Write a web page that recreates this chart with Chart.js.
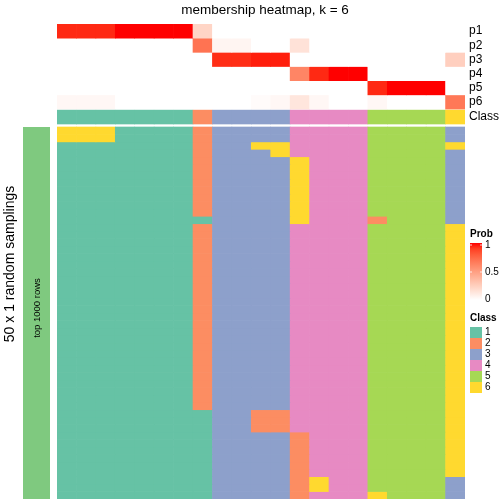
<!DOCTYPE html>
<html>
<head>
<meta charset="utf-8">
<script src="https://cdn.jsdelivr.net/npm/chart.js@4/dist/chart.umd.min.js"></script>
<style>
  html, body { margin: 0; padding: 0; background: #ffffff; }
  #wrap { width: 504px; height: 504px; position: relative; }
</style>
</head>
<body>
<div id="wrap"><canvas id="chart" width="504" height="504"></canvas></div>
<script>
// ---- data ----
var columnIds = ["s1","s2","s3","s4","s5","s6","s7","s8","s9","s10","s11",
                 "s12","s13","s14","s15","s16","s17","s18","s19","s20","s21"];

var probP1 = [0.95, 0.95, 0.95, 1, 1, 1, 1, 0.22, 0, 0, 0, 0, 0, 0, 0, 0, 0, 0, 0, 0, 0];
var probP2 = [0, 0, 0, 0, 0, 0, 0, 0.7, 0.05, 0.05, 0, 0, 0.15, 0, 0, 0, 0, 0, 0, 0, 0];
var probP3 = [0, 0, 0, 0, 0, 0, 0, 0, 0.94, 0.94, 0.97, 0.97, 0, 0, 0, 0, 0, 0, 0, 0, 0.25];
var probP4 = [0, 0, 0, 0, 0, 0, 0, 0, 0, 0, 0, 0, 0.62, 0.95, 1, 1, 0, 0, 0, 0, 0];
var probP5 = [0, 0, 0, 0, 0, 0, 0, 0, 0, 0, 0, 0, 0, 0, 0, 0, 0.95, 1, 1, 1, 0];
var probP6 = [0.04, 0.04, 0.04, 0, 0, 0, 0, 0, 0, 0, 0.02, 0.04, 0.13, 0.04, 0, 0, 0.04, 0, 0, 0, 0.68];
var probNames = ["p1", "p2", "p3", "p4", "p5", "p6"];

var consensusClass = [1, 1, 1, 1, 1, 1, 1, 2, 3, 3, 3, 3, 4, 4, 4, 4, 5, 5, 5, 5, 6];

// class of every sample in each of the 50 random samplings (one string per row)
var samplingRows = [
  "666111123333444455553",
  "666111123333444455553",
  "111111123366444455556",
  "111111123336444455553",
  "111111123333644455553",
  "111111123333644455553",
  "111111123333644455553",
  "111111123333644455553",
  "111111123333644455553",
  "111111123333644455553",
  "111111123333644455553",
  "111111123333644455553",
  "111111113333644425553",
  "111111123333444455556",
  "111111123333444455556",
  "111111123333444455556",
  "111111123333444455556",
  "111111123333444455556",
  "111111123333444455556",
  "111111123333444455556",
  "111111123333444455556",
  "111111123333444455556",
  "111111123333444455556",
  "111111123333444455556",
  "111111123333444455556",
  "111111123333444455556",
  "111111123333444455556",
  "111111123333444455556",
  "111111123333444455556",
  "111111123333444455556",
  "111111123333444455556",
  "111111123333444455556",
  "111111123333444455556",
  "111111123333444455556",
  "111111123333444455556",
  "111111123333444455556",
  "111111123333444455556",
  "111111123333444455556",
  "111111113322444455556",
  "111111113322444455556",
  "111111113322444455556",
  "111111113333244455556",
  "111111113333244455556",
  "111111113333244455556",
  "111111113333244455556",
  "111111113333244455556",
  "111111113333244455556",
  "111111113333264455553",
  "111111113333264455553",
  "111111113333244465553"
];

var classLabels = ["1", "2", "3", "4", "5", "6"];
var probTicks = [1, 0.5, 0];

// ---- styles ----
var classColors = { 1: "#66C2A5", 2: "#FC8D62", 3: "#8DA0CB", 4: "#E78AC3", 5: "#A6D854", 6: "#FFD92F" };
var sideColor = "#7FC97F";
var fontFamily = "'Liberation Sans', Arial, Helvetica, sans-serif";

// y layout in units (one unit is about one pixel)
var probRowH = 14.17;
var classTop = 86, classBottom = 100;
var mainTop = 103, mainBottom = 475;
var mainRowH = (mainBottom - mainTop) / samplingRows.length;

// white -> red in Lab space, like colorRamp2
function toLinear(c) { c = c / 255; return c <= 0.04045 ? c / 12.92 : Math.pow((c + 0.055) / 1.055, 2.4); }
function fromLinear(c) { var v = c <= 0.0031308 ? 12.92 * c : 1.055 * Math.pow(c, 1 / 2.4) - 0.055; return Math.round(Math.max(0, Math.min(1, v)) * 255); }
function rgbToLab(r, g, b) {
    r = toLinear(r); g = toLinear(g); b = toLinear(b);
    var x = (r * 0.4124 + g * 0.3576 + b * 0.1805) / 0.95047;
    var y = (r * 0.2126 + g * 0.7152 + b * 0.0722);
    var z = (r * 0.0193 + g * 0.1192 + b * 0.9505) / 1.08883;
    var f = function (t) { return t > 0.008856 ? Math.cbrt(t) : 7.787 * t + 16 / 116; };
    x = f(x); y = f(y); z = f(z);
    return [116 * y - 16, 500 * (x - y), 200 * (y - z)];
}
function labToRgb(L, a, bb) {
    var y = (L + 16) / 116, x = a / 500 + y, z = y - bb / 200;
    var fi = function (t) { return t * t * t > 0.008856 ? t * t * t : (t - 16 / 116) / 7.787; };
    x = fi(x) * 0.95047; y = fi(y); z = fi(z) * 1.08883;
    var r = x * 3.2406 + y * -1.5372 + z * -0.4986;
    var g = x * -0.9689 + y * 1.8758 + z * 0.0415;
    var b = x * 0.0557 + y * -0.2040 + z * 1.0570;
    return "rgb(" + fromLinear(r) + "," + fromLinear(g) + "," + fromLinear(b) + ")";
}
var labWhite = rgbToLab(255, 255, 255);
var labRed = rgbToLab(255, 0, 0);
function probColor(v) {
    return labToRgb(labWhite[0] + (labRed[0] - labWhite[0]) * v,
                    labWhite[1] + (labRed[1] - labWhite[1]) * v,
                    labWhite[2] + (labRed[2] - labWhite[2]) * v);
}

// ---- build datasets: one floating-bar dataset per heatmap row ----
var datasets = [];
var probRows = [probP1, probP2, probP3, probP4, probP5, probP6];
probRows.forEach(function (row, i) {
    var top = i * probRowH, bottom = (i + 1) * probRowH;
    datasets.push({
        data: row.map(function () { return [top, bottom]; }),
        backgroundColor: row.map(probColor)
    });
});
datasets.push({
    data: consensusClass.map(function () { return [classTop, classBottom]; }),
    backgroundColor: consensusClass.map(function (c) { return classColors[c]; })
});
samplingRows.forEach(function (row, i) {
    var top = mainTop + i * mainRowH, bottom = mainTop + (i + 1) * mainRowH;
    var cls = row.split("").map(Number);
    datasets.push({
        data: cls.map(function () { return [top, bottom]; }),
        backgroundColor: cls.map(function (c) { return classColors[c]; })
    });
});
datasets.forEach(function (d) {
    d.borderWidth = 0;
    d.barPercentage = 1;
    d.categoryPercentage = 1;
    d.grouped = false;
});

// ---- texts, side bar and legends ----
var decorations = {
    id: "decorations",
    afterDraw: function (chart) {
        var ctx = chart.ctx;
        var area = chart.chartArea;
        var yScale = chart.scales.y;
        ctx.save();
        ctx.fillStyle = "#000000";

        // Title
        ctx.font = "13.5px " + fontFamily;
        ctx.textAlign = "center";
        ctx.textBaseline = "middle";
        ctx.fillText("membership heatmap, k = 6", 265, 10);

        // Row labels on the right
        ctx.font = "12px " + fontFamily;
        ctx.textAlign = "left";
        probNames.forEach(function (n, i) {
            ctx.fillText(n, area.right + 4, yScale.getPixelForValue((i + 0.5) * probRowH));
        });
        ctx.fillText("Class", area.right + 4, yScale.getPixelForValue((classTop + classBottom) / 2));

        // Side bar with "top 1000 rows"
        var sTop = yScale.getPixelForValue(mainTop), sBottom = yScale.getPixelForValue(mainBottom);
        ctx.fillStyle = sideColor;
        ctx.fillRect(23, sTop, 27, sBottom - sTop);
        ctx.fillStyle = "#000000";
        ctx.save();
        ctx.translate(37, 308);
        ctx.rotate(-Math.PI / 2);
        ctx.font = "9.5px " + fontFamily;
        ctx.textAlign = "center";
        ctx.fillText("top 1000 rows", 0, 0);
        ctx.restore();

        ctx.save();
        ctx.translate(10, 264);
        ctx.rotate(-Math.PI / 2);
        ctx.font = "14px " + fontFamily;
        ctx.textAlign = "center";
        ctx.fillText("50 x 1 random samplings", 0, 0);
        ctx.restore();

        // Prob legend
        var lx = 470;
        ctx.font = "bold 10px " + fontFamily;
        ctx.textAlign = "left";
        ctx.fillText("Prob", lx, 234);
        var gTop = 243, gBottom = 300;
        var grad = ctx.createLinearGradient(0, gBottom, 0, gTop);
        for (var k = 0; k <= 10; k++) grad.addColorStop(k / 10, probColor(k / 10));
        ctx.fillStyle = grad;
        ctx.fillRect(lx, gTop, 12, gBottom - gTop);
        ctx.font = "10px " + fontFamily;
        probTicks.forEach(function (t) {
            var ty = gBottom - t * (gBottom - gTop - 3) - 1;
            if (t > 0) {
                ctx.strokeStyle = "rgba(255,255,255,0.8)";
                ctx.lineWidth = 1;
                ctx.beginPath();
                ctx.moveTo(lx, ty); ctx.lineTo(lx + 2, ty);
                ctx.moveTo(lx + 10, ty); ctx.lineTo(lx + 12, ty);
                ctx.stroke();
            }
            ctx.fillStyle = "#000000";
            ctx.fillText(String(t), lx + 15, ty);
        });

        // Class legend
        ctx.font = "bold 10px " + fontFamily;
        ctx.fillText("Class", lx, 318);
        ctx.font = "10px " + fontFamily;
        classLabels.forEach(function (c, i) {
            var by = 327 + i * 11;
            ctx.fillStyle = classColors[c];
            ctx.fillRect(lx, by, 12, 11);
            ctx.fillStyle = "#000000";
            ctx.fillText(c, lx + 15, by + 5.5);
        });
        ctx.restore();
    }
};

new Chart(document.getElementById("chart"), {
    type: "bar",
    data: { labels: columnIds, datasets: datasets },
    options: {
        responsive: false,
        animation: false,
        events: [],
        layout: { padding: { left: 57, right: 39, top: 24, bottom: 5 } },
        scales: {
            x: { display: false, offset: true, grid: { display: false } },
            y: { display: false, min: 0, max: mainBottom, reverse: true, grid: { display: false } }
        },
        plugins: {
            legend: { display: false },
            tooltip: { enabled: false },
            title: { display: false }
        }
    },
    plugins: [decorations]
});
</script>
</body>
</html>
